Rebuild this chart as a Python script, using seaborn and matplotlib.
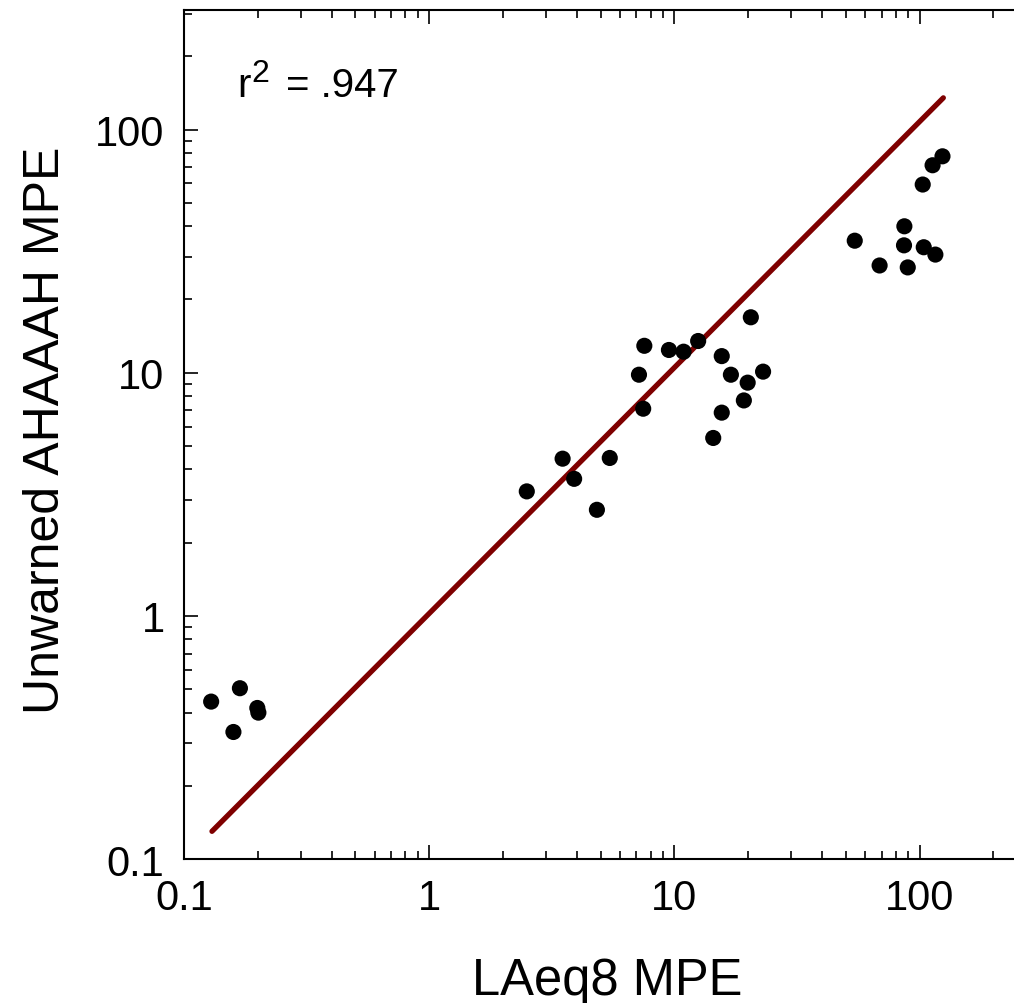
import matplotlib
matplotlib.use("Agg")
import matplotlib.pyplot as plt
import seaborn as sns
import numpy as np
import pandas as pd
from matplotlib.ticker import LogLocator, FixedLocator, FixedFormatter, NullFormatter

# ---- data ----
laeq8_mpe = [
    0.129, 0.169, 0.199, 0.201, 0.159,
    2.50, 3.50, 3.90, 4.83, 5.45, 7.46, 7.17, 7.54, 9.50, 10.9, 12.5,
    14.4, 15.6, 15.6, 17.0, 19.2, 19.9, 20.5, 23.0,
    54.4, 68.7, 86.4, 86.7, 89.5, 103, 104, 113, 116, 124,
]
ahaaah_mpe = [
    0.444, 0.504, 0.418, 0.400, 0.333,
    3.25, 4.43, 3.66, 2.73, 4.46, 7.11, 9.81, 12.9, 12.4, 12.2, 13.5,
    5.39, 11.7, 6.85, 9.81, 7.69, 9.10, 16.9, 10.1,
    34.9, 27.6, 33.4, 40.0, 27.1, 59.4, 32.8, 71.3, 30.6, 77.6,
]
fit_x = [0.13, 125]
fit_y = [0.13, 135]
r_label = "r"
r_sup = "2"
r_value = "= .947"
tick_values = [0.1, 1, 10, 100]
tick_labels = ["0.1", "1", "10", "100"]

df = pd.DataFrame({"LAeq8 MPE": laeq8_mpe, "Unwarned AHAAAH MPE": ahaaah_mpe})
fit = pd.DataFrame({"x": fit_x, "y": fit_y})

sns.set_style("ticks")
plt.rcParams["font.family"] = ["Liberation Sans", "DejaVu Sans"]
plt.rcParams["text.color"] = "black"
plt.rcParams["axes.labelcolor"] = "black"

W, H = 1014, 1004
fig = plt.figure(figsize=(W / 100, H / 100), dpi=100)
ax = fig.add_axes([0.1815, 0.1434, 0.8185 + 0.01, 0.989 - 0.1434])

sns.lineplot(data=fit, x="x", y="y", ax=ax, color="#7f0000", linewidth=3.8, zorder=1)
sns.scatterplot(data=df, x="LAeq8 MPE", y="Unwarned AHAAAH MPE", ax=ax,
                color="black", s=135, edgecolor="none", zorder=2)

ax.set_xscale("log")
ax.set_yscale("log")
ax.set_xlim(0.1, 267)
ax.set_ylim(0.1, 310)

for axis in (ax.xaxis, ax.yaxis):
    axis.set_major_locator(FixedLocator(tick_values))
    axis.set_major_formatter(FixedFormatter(tick_labels))
    axis.set_minor_locator(LogLocator(base=10, subs=np.arange(2, 10), numticks=20))
    axis.set_minor_formatter(NullFormatter())

ax.tick_params(which="both", direction="in", top=True, right=False,
               labelsize=30, pad=14, width=1.2, colors="black", labelcolor="black")
ax.tick_params(which="major", length=10)
ax.tick_params(which="minor", length=6)

ax.spines["right"].set_visible(False)
for s in ("left", "bottom", "top"):
    ax.spines[s].set_linewidth(1.5)
    ax.spines[s].set_color("black")

ax.set_xlabel("LAeq8 MPE", fontsize=36.5, color="black", va="baseline")
ax.xaxis.set_label_coords(0.5036, -0.159)
ax.set_ylabel("Unwarned AHAAAH MPE", fontsize=36, color="black", va="center")
ax.yaxis.set_label_coords(-0.1645, 0.5065)

fig.text(237 / W, 1 - 96.7 / H, r_label, fontsize=29, va="baseline", ha="left", color="black")
fig.text(251 / W, 1 - 82 / H, r_sup, fontsize=23, va="baseline", ha="left", color="black")
fig.text(285.5 / W, 1 - 96.7 / H, r_value, fontsize=29, va="baseline", ha="left", color="black")

fig.savefig("out.png", dpi=100)
